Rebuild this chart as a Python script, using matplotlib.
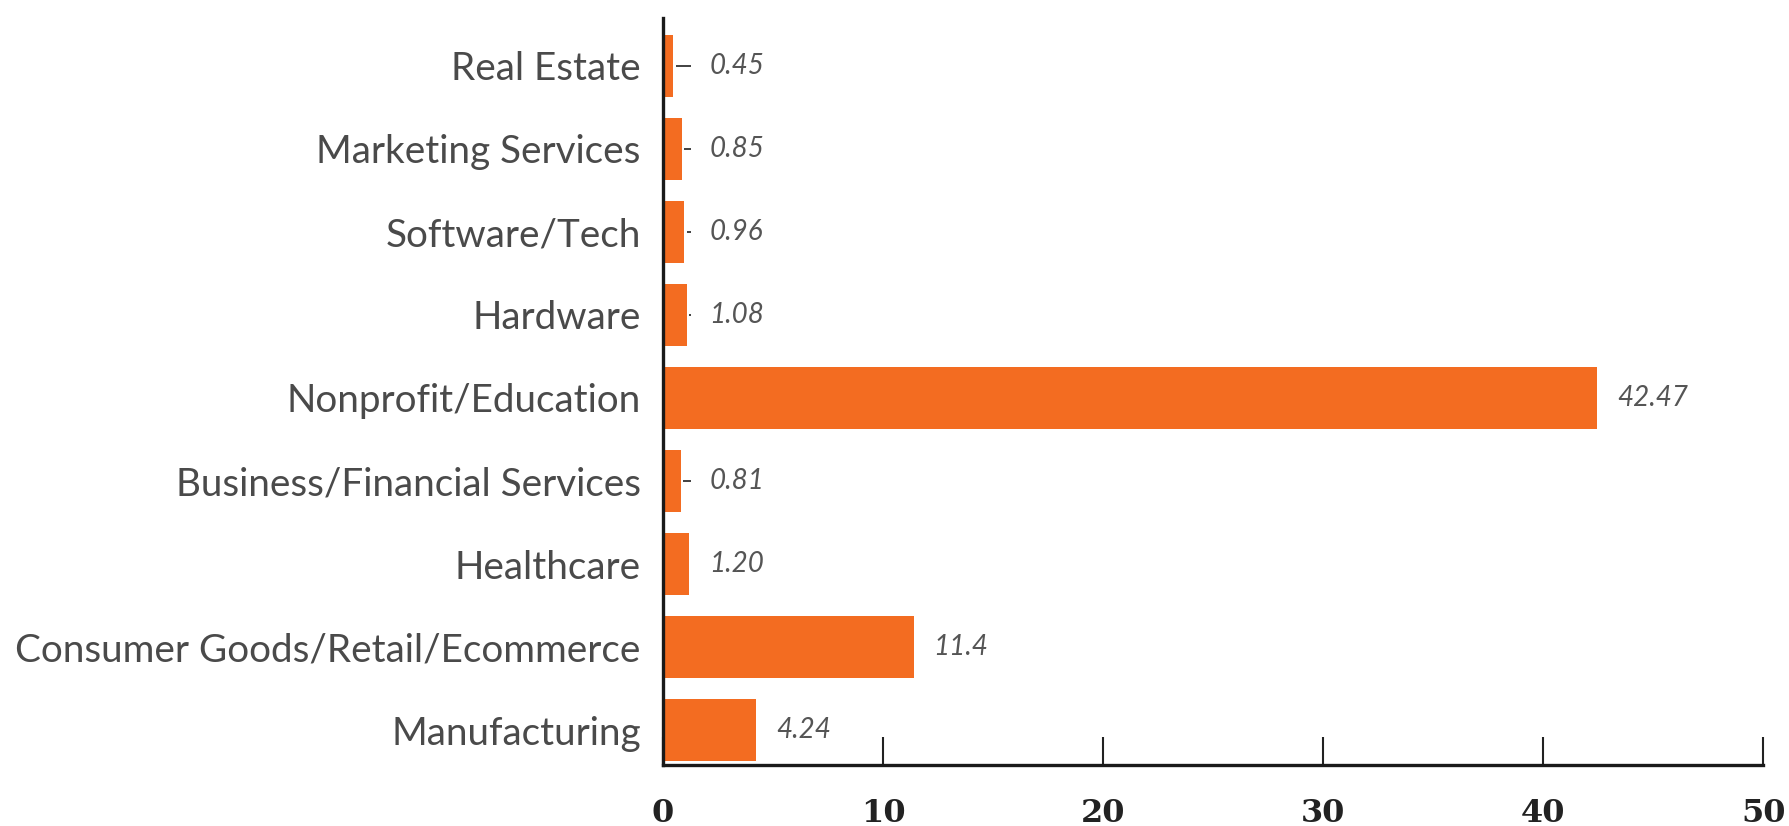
import matplotlib
matplotlib.use("Agg")
import matplotlib.pyplot as plt

# industries, top to bottom
industries = [
    "Real Estate",
    "Marketing Services",
    "Software/Tech",
    "Hardware",
    "Nonprofit/Education",
    "Business/Financial Services",
    "Healthcare",
    "Consumer Goods/Retail/Ecommerce",
    "Manufacturing",
]
values = [0.45, 0.85, 0.96, 1.08, 42.47, 0.81, 1.20, 11.4, 4.24]
value_labels = ["0.45", "0.85", "0.96", "1.08", "42.47", "0.81", "1.20", "11.4", "4.24"]
x_ticks = [0, 10, 20, 30, 40, 50]

bar_color = "#F36C21"
text_color = "#4a4a4a"

fig = plt.figure(figsize=(17.9, 8.26), dpi=100)
ax = fig.add_axes([0.3704, 0.0738, 0.6146, 0.904])

pos = list(range(len(industries)))
ax.barh(pos, values, height=0.75, color=bar_color, edgecolor="none", zorder=2)

# small leader dashes between the thin bars and their labels
for p, v in zip(pos, values):
    if v < 1.15:
        ax.hlines(p, v + 0.12, 1.25, color="#333333", linewidth=1.3, zorder=3)

# value labels: short bars get a common minimum position
for p, v, lab in zip(pos, values, value_labels):
    ax.text(max(v, 1.2) + 0.9, p, lab, ha="left", va="center",
            fontsize=20, fontstyle="italic", family="Lato", color="#555555")

ax.set_ylim(8.42, -0.57)
ax.set_xlim(0, 50)

ax.set_yticks(pos)
ax.set_yticklabels(industries, family="Lato", fontsize=27.8, color=text_color)
ax.tick_params(axis="y", length=0, pad=16)

ax.set_xticks(x_ticks)
ax.set_xticklabels([str(t) for t in x_ticks], family="DejaVu Serif",
                   fontweight="bold", fontsize=23, color="#222222")
ax.tick_params(axis="x", direction="in", length=20, width=1.5, color="#222222", pad=24)

for side in ["top", "right"]:
    ax.spines[side].set_visible(False)
for side in ["left", "bottom"]:
    ax.spines[side].set_linewidth(2.4)
    ax.spines[side].set_color("#1a1a1a")

fig.savefig("out.png", dpi=100, facecolor="white")
